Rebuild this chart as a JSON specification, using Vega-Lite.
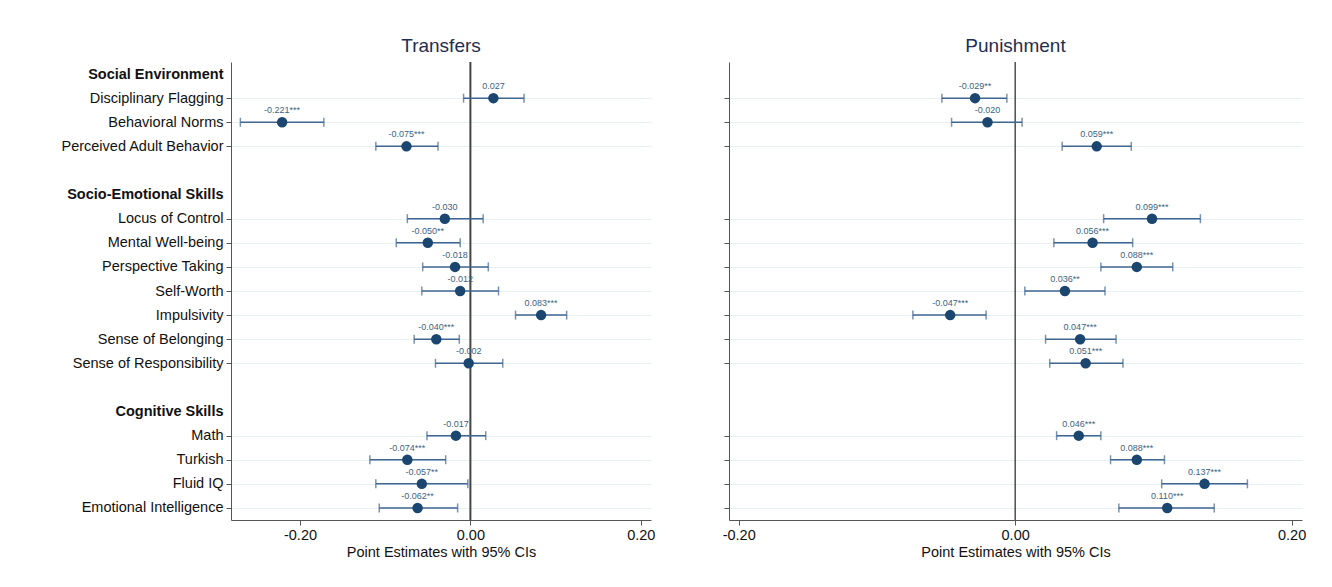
{
  "$schema": "https://vega.github.io/schema/vega-lite/v6.json",
  "background": "white",
  "padding": {"left": 60, "top": 37, "right": 10, "bottom": 10},
  "bounds": "flush",
  "spacing": 78,
  "config": {
    "font": "Liberation Sans",
    "view": {"stroke": null},
    "title": {"fontSize": 19, "fontWeight": "normal", "color": "#1f2d50", "offset": 5},
    "axis": {"domainColor": "#555555", "tickColor": "#555555", "labelColor": "#111111", "titleColor": "#111111", "tickSize": 5}
  },
  "datasets": {
    "estimates": [
      {"panel": "Transfers", "row": "Disciplinary Flagging", "est": 0.027, "lo": -0.008, "hi": 0.063, "stars": ""},
      {"panel": "Transfers", "row": "Behavioral Norms", "est": -0.221, "lo": -0.270, "hi": -0.172, "stars": "***"},
      {"panel": "Transfers", "row": "Perceived Adult Behavior", "est": -0.075, "lo": -0.111, "hi": -0.038, "stars": "***"},
      {"panel": "Transfers", "row": "Locus of Control", "est": -0.030, "lo": -0.074, "hi": 0.015, "stars": ""},
      {"panel": "Transfers", "row": "Mental Well-being", "est": -0.050, "lo": -0.087, "hi": -0.012, "stars": "**"},
      {"panel": "Transfers", "row": "Perspective Taking", "est": -0.018, "lo": -0.056, "hi": 0.021, "stars": ""},
      {"panel": "Transfers", "row": "Self-Worth", "est": -0.012, "lo": -0.057, "hi": 0.033, "stars": ""},
      {"panel": "Transfers", "row": "Impulsivity", "est": 0.083, "lo": 0.053, "hi": 0.113, "stars": "***"},
      {"panel": "Transfers", "row": "Sense of Belonging", "est": -0.040, "lo": -0.066, "hi": -0.013, "stars": "***"},
      {"panel": "Transfers", "row": "Sense of Responsibility", "est": -0.002, "lo": -0.041, "hi": 0.038, "stars": ""},
      {"panel": "Transfers", "row": "Math", "est": -0.017, "lo": -0.051, "hi": 0.018, "stars": ""},
      {"panel": "Transfers", "row": "Turkish", "est": -0.074, "lo": -0.118, "hi": -0.029, "stars": "***"},
      {"panel": "Transfers", "row": "Fluid IQ", "est": -0.057, "lo": -0.111, "hi": -0.003, "stars": "**"},
      {"panel": "Transfers", "row": "Emotional Intelligence", "est": -0.062, "lo": -0.107, "hi": -0.015, "stars": "**"},
      {"panel": "Punishment", "row": "Disciplinary Flagging", "est": -0.029, "lo": -0.053, "hi": -0.006, "stars": "**"},
      {"panel": "Punishment", "row": "Behavioral Norms", "est": -0.020, "lo": -0.046, "hi": 0.005, "stars": ""},
      {"panel": "Punishment", "row": "Perceived Adult Behavior", "est": 0.059, "lo": 0.034, "hi": 0.084, "stars": "***"},
      {"panel": "Punishment", "row": "Locus of Control", "est": 0.099, "lo": 0.064, "hi": 0.134, "stars": "***"},
      {"panel": "Punishment", "row": "Mental Well-being", "est": 0.056, "lo": 0.028, "hi": 0.085, "stars": "***"},
      {"panel": "Punishment", "row": "Perspective Taking", "est": 0.088, "lo": 0.062, "hi": 0.114, "stars": "***"},
      {"panel": "Punishment", "row": "Self-Worth", "est": 0.036, "lo": 0.007, "hi": 0.065, "stars": "**"},
      {"panel": "Punishment", "row": "Impulsivity", "est": -0.047, "lo": -0.074, "hi": -0.021, "stars": "***"},
      {"panel": "Punishment", "row": "Sense of Belonging", "est": 0.047, "lo": 0.022, "hi": 0.073, "stars": "***"},
      {"panel": "Punishment", "row": "Sense of Responsibility", "est": 0.051, "lo": 0.025, "hi": 0.078, "stars": "***"},
      {"panel": "Punishment", "row": "Math", "est": 0.046, "lo": 0.030, "hi": 0.062, "stars": "***"},
      {"panel": "Punishment", "row": "Turkish", "est": 0.088, "lo": 0.069, "hi": 0.108, "stars": "***"},
      {"panel": "Punishment", "row": "Fluid IQ", "est": 0.137, "lo": 0.106, "hi": 0.168, "stars": "***"},
      {"panel": "Punishment", "row": "Emotional Intelligence", "est": 0.110, "lo": 0.075, "hi": 0.144, "stars": "***"}
    ]
  },
  "hconcat": [
    {
      "title": "Transfers",
      "width": 420,
      "height": 458,
      "layer": [
        {
          "data": {"values": [{}]},
          "mark": {"type": "rule", "color": "#444444", "strokeWidth": 2},
          "encoding": {"x": {"datum": 0, "type": "quantitative", "scale": {"domain": [-0.281, 0.212], "nice": false, "zero": false}}}
        },
        {
          "data": {"name": "estimates"},
          "transform": [
            {"filter": "datum.panel === 'Transfers'"},
            {"calculate": "replace(format(datum.est, '.3f'), '\u2212', '-') + datum.stars", "as": "lab"}
          ],
          "encoding": {
            "y": {
              "field": "row",
              "type": "nominal",
              "title": null,
              "scale": {"type": "point", "padding": 0.5, "domain": ["Social Environment", "Disciplinary Flagging", "Behavioral Norms", "Perceived Adult Behavior", " ", "Socio-Emotional Skills", "Locus of Control", "Mental Well-being", "Perspective Taking", "Self-Worth", "Impulsivity", "Sense of Belonging", "Sense of Responsibility", "  ", "Cognitive Skills", "Math", "Turkish", "Fluid IQ", "Emotional Intelligence"]},
              "axis": {
                "labelFontSize": 14.5,
                "labelPadding": 3,
                "labelLimit": 300,
                "labelFontWeight": {"condition": {"test": "indexof(['Social Environment','Socio-Emotional Skills','Cognitive Skills'], datum.value) >= 0", "value": "bold"}, "value": "normal"},
                "tickOpacity": {"condition": {"test": "indexof(['Social Environment','Socio-Emotional Skills','Cognitive Skills',' ','  '], datum.value) >= 0", "value": 0}, "value": 1},
                "grid": true,
                "gridColor": "#e9f0f4",
                "gridWidth": 1.2,
                "gridOpacity": {"condition": {"test": "indexof(['Social Environment','Socio-Emotional Skills','Cognitive Skills',' ','  '], datum.value) >= 0", "value": 0}, "value": 1}
              }
            }
          },
          "layer": [
            {
              "mark": {"type": "rule", "color": "#3e6590", "strokeWidth": 1.5},
              "encoding": {
                "x": {"field": "lo", "type": "quantitative", "title": "Point Estimates with 95% CIs",
                  "axis": {"values": [-0.2, 0, 0.2], "format": ".2f", "labelExpr": "replace(datum.label, '\u2212', '-')", "grid": false, "labelFontSize": 14.5, "titleFontSize": 14.5, "titleFontWeight": "normal", "labelPadding": 3, "titlePadding": 4}},
                "x2": {"field": "hi"}
              }
            },
            {
              "mark": {"type": "tick", "color": "#3e6590", "thickness": 1.5, "size": 9},
              "encoding": {"x": {"field": "lo", "type": "quantitative"}}
            },
            {
              "mark": {"type": "tick", "color": "#3e6590", "thickness": 1.5, "size": 9},
              "encoding": {"x": {"field": "hi", "type": "quantitative"}}
            },
            {
              "mark": {"type": "circle", "color": "#1b4670", "opacity": 1, "size": 110},
              "encoding": {"x": {"field": "est", "type": "quantitative"}}
            },
            {
              "mark": {"type": "text", "color": "#3d5f82", "fontSize": 9, "dy": -12},
              "encoding": {"x": {"field": "est", "type": "quantitative"}, "text": {"field": "lab"}}
            }
          ]
        }
      ]
    },
    {
      "title": "Punishment",
      "width": 573,
      "height": 458,
      "layer": [
        {
          "data": {"values": [{}]},
          "mark": {"type": "rule", "color": "#222222", "strokeWidth": 1.2},
          "encoding": {"x": {"datum": 0, "type": "quantitative", "scale": {"domain": [-0.207, 0.2075], "nice": false, "zero": false}}}
        },
        {
          "data": {"name": "estimates"},
          "transform": [
            {"filter": "datum.panel === 'Punishment'"},
            {"calculate": "replace(format(datum.est, '.3f'), '\u2212', '-') + datum.stars", "as": "lab"}
          ],
          "encoding": {
            "y": {
              "field": "row",
              "type": "nominal",
              "title": null,
              "scale": {"type": "point", "padding": 0.5, "domain": ["Social Environment", "Disciplinary Flagging", "Behavioral Norms", "Perceived Adult Behavior", " ", "Socio-Emotional Skills", "Locus of Control", "Mental Well-being", "Perspective Taking", "Self-Worth", "Impulsivity", "Sense of Belonging", "Sense of Responsibility", "  ", "Cognitive Skills", "Math", "Turkish", "Fluid IQ", "Emotional Intelligence"]},
              "axis": {
                "labels": false,
                "tickOpacity": {"condition": {"test": "indexof(['Social Environment','Socio-Emotional Skills','Cognitive Skills',' ','  '], datum.value) >= 0", "value": 0}, "value": 1},
                "grid": true,
                "gridColor": "#e9f0f4",
                "gridWidth": 1.2,
                "gridOpacity": {"condition": {"test": "indexof(['Social Environment','Socio-Emotional Skills','Cognitive Skills',' ','  '], datum.value) >= 0", "value": 0}, "value": 1}
              }
            }
          },
          "layer": [
            {
              "mark": {"type": "rule", "color": "#3e6590", "strokeWidth": 1.5},
              "encoding": {
                "x": {"field": "lo", "type": "quantitative", "title": "Point Estimates with 95% CIs",
                  "axis": {"values": [-0.2, 0, 0.2], "format": ".2f", "labelExpr": "replace(datum.label, '\u2212', '-')", "grid": false, "labelFontSize": 14.5, "titleFontSize": 14.5, "titleFontWeight": "normal", "labelPadding": 3, "titlePadding": 4}},
                "x2": {"field": "hi"}
              }
            },
            {
              "mark": {"type": "tick", "color": "#3e6590", "thickness": 1.5, "size": 9},
              "encoding": {"x": {"field": "lo", "type": "quantitative"}}
            },
            {
              "mark": {"type": "tick", "color": "#3e6590", "thickness": 1.5, "size": 9},
              "encoding": {"x": {"field": "hi", "type": "quantitative"}}
            },
            {
              "mark": {"type": "circle", "color": "#1b4670", "opacity": 1, "size": 110},
              "encoding": {"x": {"field": "est", "type": "quantitative"}}
            },
            {
              "mark": {"type": "text", "color": "#3d5f82", "fontSize": 9, "dy": -12},
              "encoding": {"x": {"field": "est", "type": "quantitative"}, "text": {"field": "lab"}}
            }
          ]
        }
      ]
    }
  ]
}
